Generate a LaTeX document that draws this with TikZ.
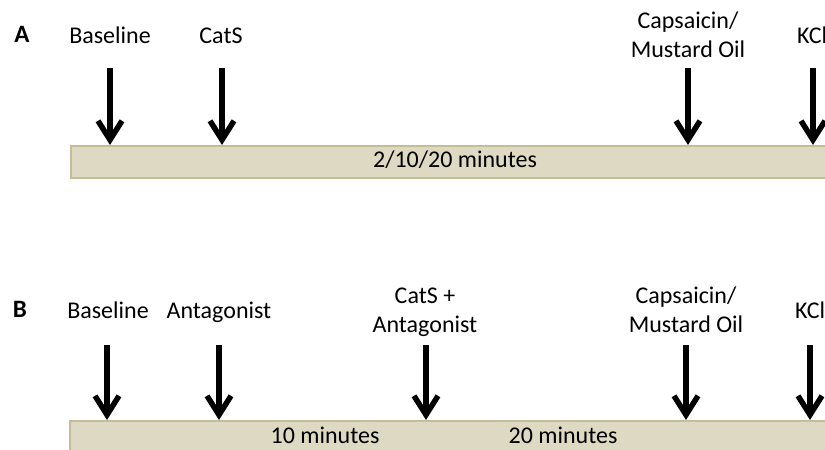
\documentclass[tikz,border=0pt]{standalone}
\usepackage{fontspec}
\setmainfont{Carlito}
\usetikzlibrary{arrows.meta}
\definecolor{barfill}{HTML}{DDD9C3}
\definecolor{barline}{HTML}{C4BD97}
\tikzset{
  lbl/.style={font=\fontsize{24}{29}\selectfont, inner sep=0pt, anchor=base, align=center},
  panel/.style={font=\fontsize{25}{29}\selectfont\bfseries, inner sep=0pt, anchor=base},
  arr/.style={line width=5.5pt, -{Straight Barb[length=19pt,width=24pt]}},
  bar/.style={fill=barfill, draw=barline, line width=2pt}
}
\begin{document}
\begin{tikzpicture}[x=1pt,y=-1pt]
\useasboundingbox (0,0) rectangle (825,450);
\clip (0,0) rectangle (825,450);
% Panel A
\node[bar, rectangle, minimum width=780pt, minimum height=32pt, anchor=north west] (barA) at (70,145) {};
\node[lbl] (tA) at (455,167) {2/10/20 minutes};
\node[panel] (pA) at (22,42) {A};
\node[lbl] (a1) at (110,43) {Baseline};
\node[lbl] (a2) at (221,43) {CatS};
\node[lbl] (a3) at (688,57) {Capsaicin/\\Mustard Oil};
\node[lbl, anchor=base west] (a4) at (797,43) {KCl};
\coordinate (sa1) at (110,68); \coordinate (ea1) at (110,145);
\coordinate (sa2) at (222,68); \coordinate (ea2) at (222,145);
\coordinate (sa3) at (688,68); \coordinate (ea3) at (688,145);
\coordinate (sa4) at (813,68); \coordinate (ea4) at (813,145);
\draw[arr] (sa1) -- (ea1);
\draw[arr] (sa2) -- (ea2);
\draw[arr] (sa3) -- (ea3);
\draw[arr] (sa4) -- (ea4);
% Panel B
\node[bar, rectangle, minimum width=780pt, minimum height=40pt, anchor=north west] (barB) at (69,420) {};
\node[lbl] (t1) at (325,443) {10 minutes};
\node[lbl] (t2) at (563,443) {20 minutes};
\node[panel] (pB) at (20,317) {B};
\node[lbl] (b1) at (108,318) {Baseline};
\node[lbl] (b2) at (219,318) {Antagonist};
\node[lbl] (b3) at (425,332) {CatS +\\Antagonist};
\node[lbl] (b4) at (686,332) {Capsaicin/\\Mustard Oil};
\node[lbl, anchor=base west] (b5) at (795,318) {KCl};
\coordinate (sb1) at (107,345); \coordinate (eb1) at (107,420);
\coordinate (sb2) at (219,345); \coordinate (eb2) at (219,420);
\coordinate (sb3) at (426,345); \coordinate (eb3) at (426,420);
\coordinate (sb4) at (686,345); \coordinate (eb4) at (686,420);
\coordinate (sb5) at (810,345); \coordinate (eb5) at (810,420);
\draw[arr] (sb1) -- (eb1);
\draw[arr] (sb2) -- (eb2);
\draw[arr] (sb3) -- (eb3);
\draw[arr] (sb4) -- (eb4);
\draw[arr] (sb5) -- (eb5);
\end{tikzpicture}
\end{document}
